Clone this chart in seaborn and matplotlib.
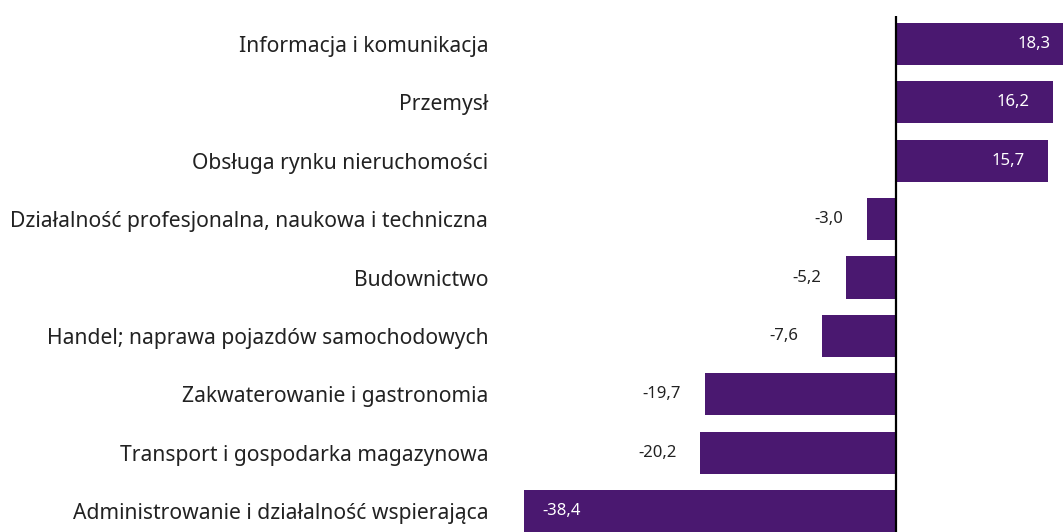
import matplotlib
matplotlib.use("Agg")
import matplotlib.pyplot as plt
import seaborn as sns
import pandas as pd

categories = [
    "Informacja i komunikacja",
    "Przemysł",
    "Obsługa rynku nieruchomości",
    "Działalność profesjonalna, naukowa i techniczna",
    "Budownictwo",
    "Handel; naprawa pojazdów samochodowych",
    "Zakwaterowanie i gastronomia",
    "Transport i gospodarka magazynowa",
    "Administrowanie i działalność wspierająca",
]
values = [18.3, 16.2, 15.7, -3.0, -5.2, -7.6, -19.7, -20.2, -38.4]

BAR = "#4a1870"

sns.set_theme(style="white")
plt.rcParams["font.family"] = ["Noto Sans", "DejaVu Sans"]

df = pd.DataFrame({"cat": categories, "val": values})

W, H = 1063, 532
fig = plt.figure(figsize=(W / 100, H / 100), dpi=100)
left_px, top_px = 505, 16
ax = fig.add_axes([left_px / W, 0, 1 - left_px / W, 1 - top_px / H])

sns.barplot(data=df, x="val", y="cat", orient="h", color=BAR, saturation=1,
            width=0.72, ax=ax, edgecolor="none")

ax.set_xlim(-40.35, 17.23)
ax.set_ylim(8.36, -0.48)
ax.axvline(0, color="black", lw=1.6, zorder=5)

for s in ax.spines.values():
    s.set_visible(False)
ax.set_xticks([])
ax.set_xlabel("")
ax.set_ylabel("")
ax.tick_params(axis="y", length=0, pad=12, labelsize=15.2, labelcolor="#222222")

px = 0.72  # points per pixel
for i, v in enumerate(values):
    lab = f"{v:.1f}".replace(".", ",")
    if v > 0:
        ax.annotate(lab, (v, i), xytext=(-23 * px, 0), textcoords="offset points",
                    ha="right", va="center", color="white", fontsize=12,
                    annotation_clip=False)
    elif v < -30:
        ax.annotate(lab, (v, i), xytext=(18 * px, 0), textcoords="offset points",
                    ha="left", va="center", color="white", fontsize=12,
                    annotation_clip=False)
    else:
        ax.annotate(lab, (v, i), xytext=(-24 * px, 0), textcoords="offset points",
                    ha="right", va="center", color="#222222", fontsize=12,
                    annotation_clip=False)

fig.savefig("out.png", dpi=100)
